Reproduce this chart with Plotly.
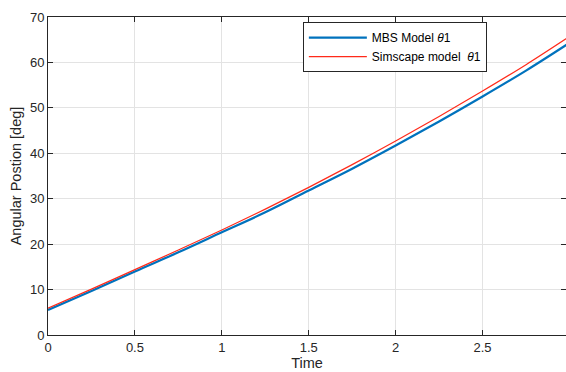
import plotly.graph_objects as go

time = [0, 0.25, 0.5, 0.75, 1.0, 1.25, 1.5, 1.75, 2.0, 2.25, 2.5, 2.75, 3.0]
mbs_theta1 = [5.5, 9.7, 14.0, 18.2, 22.6, 27.0, 31.8, 36.6, 41.7, 47.0, 52.5, 58.2, 64.3]
simscape_theta1 = [5.9, 10.1, 14.4, 18.7, 23.1, 27.7, 32.5, 37.5, 42.7, 48.1, 53.7, 59.5, 65.7]

x_ticks = [0, 0.5, 1, 1.5, 2, 2.5]
y_ticks = [0, 10, 20, 30, 40, 50, 60, 70]

FONT = "Liberation Sans, Arial, sans-serif"

fig = go.Figure()
fig.add_trace(go.Scatter(x=time, y=mbs_theta1, mode="lines", name="MBS Model <i>θ</i>1",
                         line=dict(color="#0072BD", width=2.2, shape="spline")))
fig.add_trace(go.Scatter(x=time, y=simscape_theta1, mode="lines", name="Simscape model  <i>θ</i>1",
                         line=dict(color="#FF2A1A", width=1.2, shape="spline")))

axis_common = dict(showgrid=True, gridcolor="#E3E3E3", gridwidth=1, zeroline=False,
                   showline=True, linecolor="#262626", linewidth=1, mirror="ticks",
                   ticks="inside", ticklen=5, tickcolor="#262626", automargin=False,
                   tickfont=dict(family=FONT, size=13, color="#262626"))

fig.update_xaxes(range=[0, 2.98], tickvals=x_ticks, ticktext=[str(v) for v in x_ticks],
                 title=dict(text="Time", standoff=1, font=dict(family=FONT, size=14.5, color="#262626")),
                 **axis_common)
fig.update_yaxes(range=[0, 70], tickvals=y_ticks,
                 title=dict(text="Angular Postion [deg]", standoff=4, font=dict(family=FONT, size=14.5, color="#262626")),
                 **axis_common)

fig.update_layout(
    width=566, height=372,
    margin=dict(l=48, r=0, t=17, b=37, autoexpand=False),
    plot_bgcolor="white", paper_bgcolor="white",
    legend=dict(x=0.492, y=0.984, xanchor="left", yanchor="top",
                bgcolor="white", bordercolor="#262626", borderwidth=1,
                font=dict(family=FONT, size=12, color="#000000"),
                tracegroupgap=0, itemwidth=58),
    showlegend=True,
)

fig.write_html("out.html",
               config={"displayModeBar": False},
               post_script="document.body.style.margin='0';document.body.style.overflow='hidden';")
